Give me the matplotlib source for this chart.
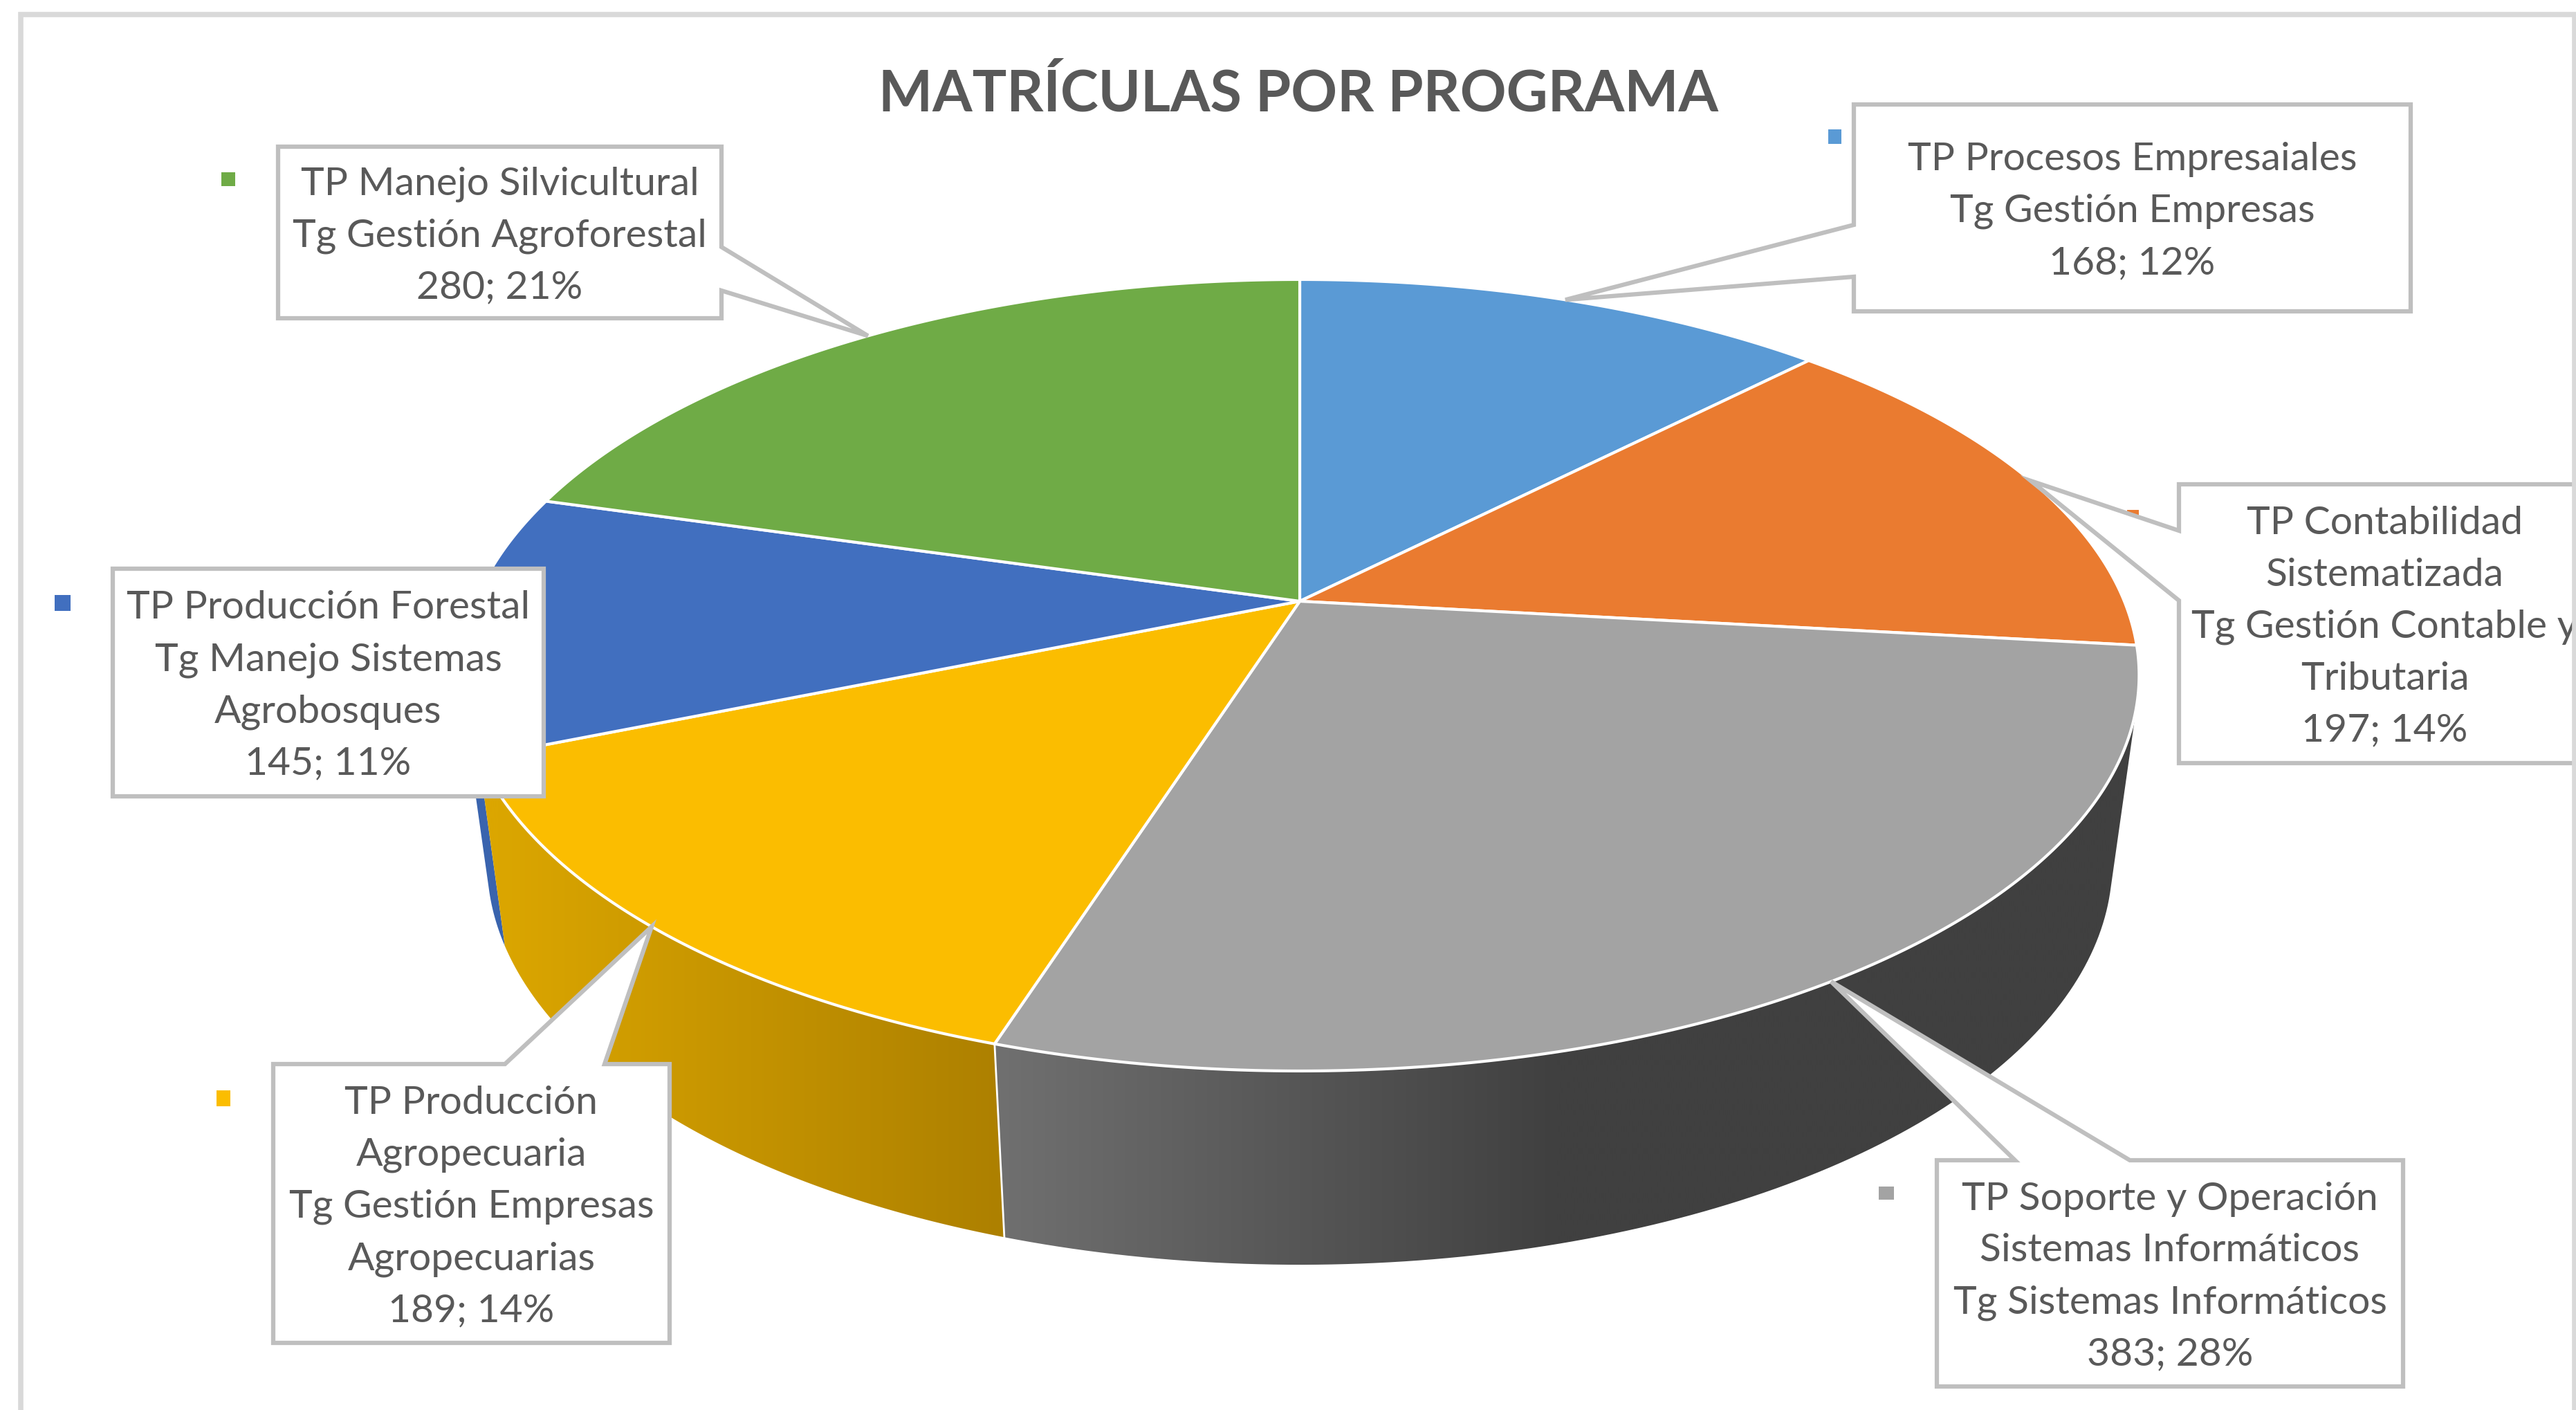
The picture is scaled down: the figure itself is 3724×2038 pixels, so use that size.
import numpy as np
import matplotlib
matplotlib.use('Agg')
from matplotlib import pyplot as plt
from matplotlib.patches import Polygon

plt.rcParams['font.family'] = ['Lato', 'DejaVu Sans']

TITLE = 'MATRÍCULAS POR PROGRAMA'
names = [
    'TP Procesos Empresaiales\nTg Gestión Empresas',
    'TP Contabilidad\nSistematizada\nTg Gestión Contable y\nTributaria',
    'TP Soporte y Operación\nSistemas Informáticos\nTg Sistemas Informáticos',
    'TP Producción\nAgropecuaria\nTg Gestión Empresas\nAgropecuarias',
    'TP Producción Forestal\nTg Manejo Sistemas\nAgrobosques',
    'TP Manejo Silvicultural\nTg Gestión Agroforestal',
]
values = [168, 197, 383, 189, 145, 280]
colors = ['#5A9AD5', '#EA7B30', '#A3A3A3', '#FBBD00', '#416FBF', '#6FAB46']

W, H = 3724, 2038
TEXT = '#595959'
EDGE = '#BFBFBF'

# perspective of the disc, in pixels of the full picture
CX = 1879
KAPPA = 0.187
TOP = dict(A=1192, B=552, y0=869)
LOW = dict(A=1154, B=561, y0=1138)

# label boxes: x0, x1, y0, y1, side of the leader, leader base a, b
boxes = [
    (2680, 3485, 151, 450, 'left', 325, 400),
    (3150, 3745, 700, 1103, 'left', 767, 868),
    (2800, 3474, 1677, 2004, 'top', 2913, 3079),
    (395, 968, 1538, 1941, 'top', 730, 874),
    (163, 786, 822, 1151, None, 0, 0),
    (402, 1043, 212, 460, 'right', 357, 420),
]
# legend keys: x0, x1, y0, y1
keys = [
    (2643, 2662, 187, 208),
    (3075, 3092, 737, 755),
    (2716, 2738, 1715, 1734),
    (313, 333, 1576, 1599),
    (79, 102, 860, 883),
    (320, 340, 249, 269),
]


def rim(deg, p):
    a = np.radians(deg)
    d = 1 + KAPPA*np.cos(a)
    return np.column_stack([CX + p['A']*np.sin(a)/d, p['y0'] - p['B']*np.cos(a)/d])


def hull(pts):
    pts = sorted(map(tuple, pts))
    def half(seq):
        out = []
        for q in seq:
            while len(out) > 1:
                ax_, ay_ = out[-2]
                bx_, by_ = out[-1]
                if (bx_-ax_)*(q[1]-ay_) - (by_-ay_)*(q[0]-ax_) > 0:
                    break
                out.pop()
            out.append(q)
        return out[:-1]
    return np.array(half(pts) + half(pts[::-1]))


def wall(ax, a0, a1, stops, z):
    t = np.linspace(a0, a1, 120)
    shape = Polygon(hull(np.vstack([rim(t, TOP), rim(t, LOW)])), closed=True,
                    fc='none', ec='none', transform=ax.transData)
    ax.add_patch(shape)
    xs = shape.get_xy()[:, 0]
    grid = np.linspace(xs.min(), xs.max(), 400)
    rgb = [np.interp(grid, stops[0], [matplotlib.colors.to_rgb(c)[i] for c in stops[1]]) for i in range(3)]
    img = ax.imshow(np.dstack(rgb).reshape(1, 400, 3), extent=(xs.min(), xs.max(), H, 0),
                    aspect='auto', zorder=z, interpolation='bilinear')
    img.set_clip_path(shape)


def callout(box, tip):
    x0, x1, y0, y1, side, a, b = box
    if side == 'left':
        return [(x0, y0), (x1, y0), (x1, y1), (x0, y1), (x0, b), tip, (x0, a)]
    if side == 'right':
        return [(x0, y0), (x1, y0), (x1, a), tip, (x1, b), (x1, y1), (x0, y1)]
    if side == 'top':
        return [(x0, y0), (a, y0), tip, (b, y0), (x1, y0), (x1, y1), (x0, y1)]
    return [(x0, y0), (x1, y0), (x1, y1), (x0, y1)]


fig = plt.figure(figsize=(W/100, H/100), dpi=100, facecolor='white')
ax = fig.add_axes([0, 0, 1, 1])

total = sum(values)
edges = np.concatenate([[0], np.cumsum(values)]) / total * 360
mids = (edges[:-1] + edges[1:]) / 2

# side walls
wall(ax, edges[4], edges[4] + 14, ([0, 1], ['#3A64AE', '#3A64AE']), 1)
wall(ax, edges[3], edges[4], ([720, 1450], ['#DBA600', '#AD8000']), 2)
wall(ax, edges[2], edges[3], ([1440, 2250, 3100], ['#707070', '#404040', '#404040']), 2)
seam = np.vstack([rim(edges[3], TOP), rim(edges[3], LOW)])
ax.plot(seam[:, 0], seam[:, 1], color='white', lw=2, zorder=3)

# top face
for i, c in enumerate(colors):
    t = np.linspace(edges[i], edges[i+1], 200)
    pts = np.vstack([[CX, TOP['y0']], rim(t, TOP)])
    ax.add_patch(Polygon(pts, closed=True, fc=c, ec='white', lw=3, joinstyle='round', zorder=4))

# keys, then the boxes over them
for k, c in zip(keys, colors):
    ax.fill([k[0], k[1], k[1], k[0]], [k[2], k[2], k[3], k[3]], color=c, lw=0, zorder=5)

for i, box in enumerate(boxes):
    tip = tuple(rim(mids[i], TOP)[0])
    ax.add_patch(Polygon(callout(box, tip), closed=True, fc='white', ec=EDGE, lw=4.5,
                         joinstyle='miter', zorder=6))
    label = '%s\n%d; %d%%' % (names[i], values[i], round(values[i]/total*100))
    ax.text((box[0]+box[1])/2, (box[2]+box[3])/2 + 5, label, ha='center', va='center',
            color=TEXT, fontsize=41, linespacing=1.58, zorder=7)

ax.text(1877, 136, TITLE, ha='center', va='center', color=TEXT, fontsize=59.6, fontweight='bold', zorder=7)

# chart frame
ax.plot([30, 30, 3722, 3722], [H, 21, 21, H], color='#D9D9D9', lw=5.5, zorder=8, solid_joinstyle='miter')

ax.set_xlim(0, W)
ax.set_ylim(H, 0)
ax.axis('off')

fig.savefig('out.png', dpi=100, facecolor='white')
